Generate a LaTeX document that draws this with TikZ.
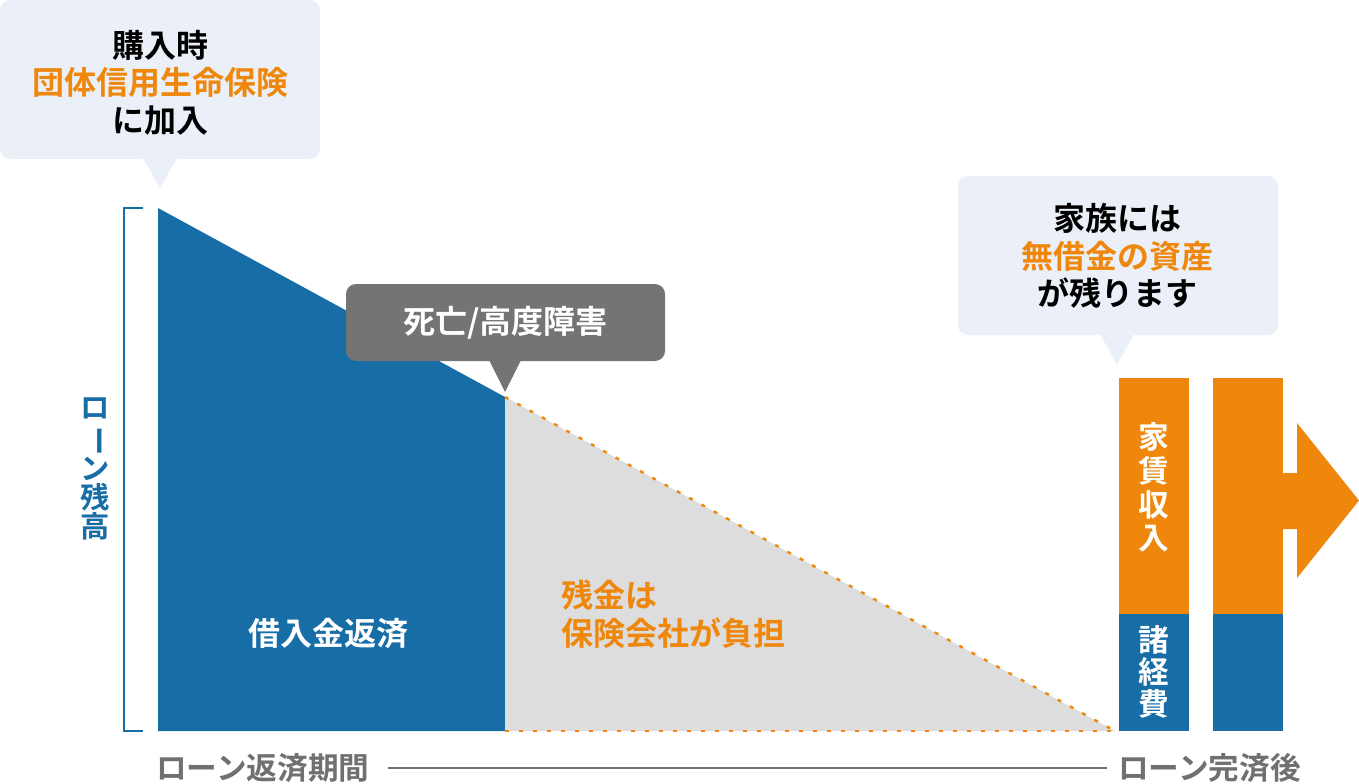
\documentclass[tikz,border=0pt]{standalone}
\usepackage{fontspec}
\setmainfont{Noto Sans CJK JP}[BoldFont=* Bold]
\usepackage{xcolor}
\usetikzlibrary{positioning}

\definecolor{loanblue}{HTML}{176DA6}
\definecolor{loanorange}{HTML}{EF870C}
\definecolor{bubblebg}{HTML}{EBF0F8}
\definecolor{notegray}{HTML}{747474}
\definecolor{paidgray}{HTML}{DDDDDD}
\definecolor{axisgray}{HTML}{707070}

\begin{document}
\begin{tikzpicture}[x=0.75pt,y=-0.75pt,
		txt/.style={font=\bfseries\fontsize{24}{28.2}\selectfont, align=center, inner sep=0pt},
		vtxt/.style={font=\bfseries\fontsize{23}{25.3}\selectfont, align=center, inner sep=0pt, text=white},
		axislbl/.style={font=\bfseries\fontsize{23}{26}\selectfont, inner sep=0pt, text=axisgray, anchor=west},
		orangedots/.style={loanorange, line width=1.8pt, dash pattern=on 3pt off 7.5pt}]
		\useasboundingbox (0,0) rectangle (1359,784);

		\coordinate (top) at (158,208);
		\coordinate (death) at (505,397);
		\coordinate (deathbase) at (505,731);
		\coordinate (origin) at (158,731);
		\coordinate (paidoff) at (1115,731);

		\fill[loanblue] (top) -- (death) -- (deathbase) -- (origin) -- cycle;
		\fill[paidgray] (death) -- (paidoff) -- (deathbase) -- cycle;
		\draw[orangedots] (death) -- (paidoff);
		\draw[orangedots] (deathbase) -- (paidoff);
		\draw[loanblue, line width=1.5pt] (143,208) -- (124,208) -- (124,731) -- (143,731);

		\node[font=\bfseries\fontsize{22}{22}\selectfont, align=center, inner sep=0pt, text=loanblue] (balance) at (95,469)
			{ロ\\\rotatebox[origin=c]{-90}{ー}\\ン\\残\\高};

		\fill[bubblebg, rounded corners=7.5pt] (0,0) rectangle (320,159);
		\fill[bubblebg] (143,158) -- (177,158) -- (160,188) -- cycle;
		\node[txt] (buy) at (160,82.5) {購入時\\\textcolor{loanorange}{団体信用生命保険}\\に加入};

		\fill[notegray, rounded corners=7.5pt] (346,284) rectangle (665,361);
		\fill[notegray] (489,360) -- (521,360) -- (505,392) -- cycle;
		\node[txt, text=white] (event) at (505.5,323) {死亡/高度障害};

		\node[txt, text=white] (repay) at (328,633) {借入金返済};
		\node[txt, text=loanorange, align=left, anchor=west] (insurer) at (561,614.5) {残金は\\保険会社が負担};

		\fill[bubblebg, rounded corners=7.5pt] (958,176) rectangle (1278,335);
		\fill[bubblebg] (1100,334) -- (1134,334) -- (1117,365) -- cycle;
		\node[txt] (family) at (1117.5,256) {家族には\\\textcolor{loanorange}{無借金の資産}\\が残ります};

		\fill[loanorange] (1119,378) rectangle (1189,614);
		\fill[loanblue] (1119,614) rectangle (1189,731);
		\fill[loanorange] (1213,378) rectangle (1283,614);
		\fill[loanblue] (1213,614) rectangle (1283,731);
		\fill[loanorange] (1282,473) -- (1297,473) -- (1297,423) -- (1359,500.5) -- (1297,578) -- (1297,529) -- (1282,529) -- cycle;

		\node[vtxt] (rent) at (1154,487.5) {家\\賃\\収\\入};
		\node[vtxt, font=\bfseries\fontsize{23}{24}\selectfont] (costs) at (1154,672) {諸\\経\\費};

		\node[axislbl] (period) at (156,768) {ローン返済期間};
		\node[axislbl] (after) at (1118,768) {ローン完済後};
		\draw[axisgray, line width=1pt] (period.east) ++(18,0) -- ([xshift=-8]after.west);
	\end{tikzpicture}
\end{document}
